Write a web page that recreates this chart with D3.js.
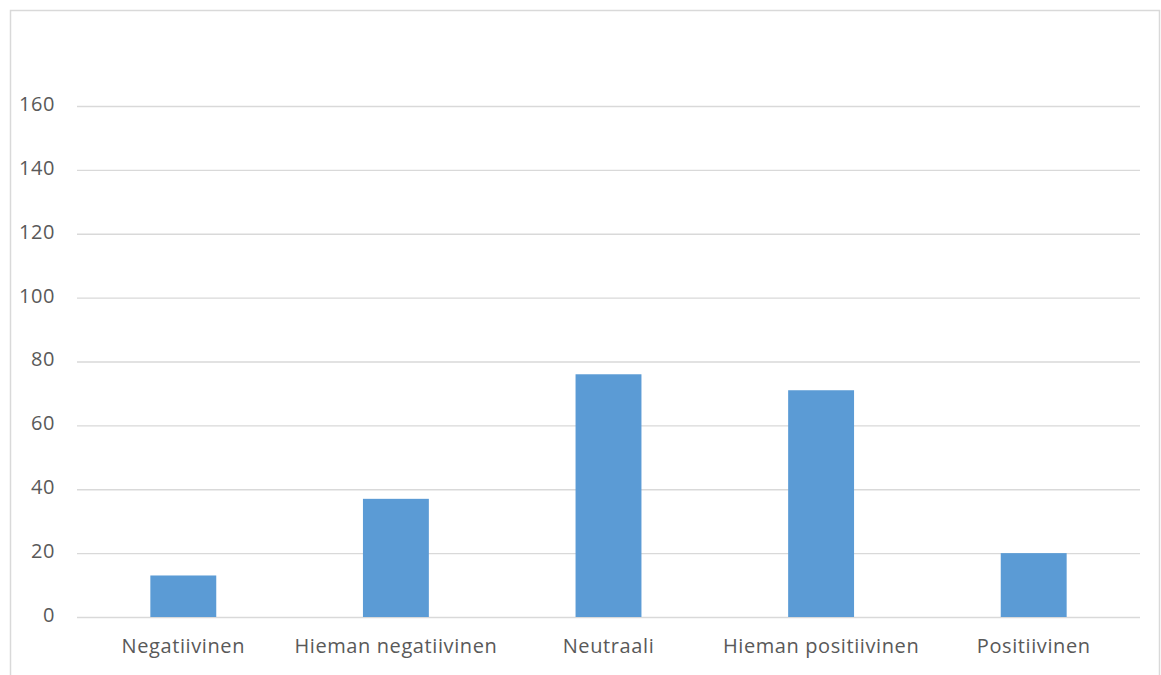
<!DOCTYPE html>
<html><head><meta charset="utf-8">
<script src="https://cdn.jsdelivr.net/npm/d3@7"></script>
<style>body{margin:0;background:#fff;}svg{display:block;}</style>
</head><body>
<script>
const categories = ["Negatiivinen","Hieman negatiivinen","Neutraali","Hieman positiivinen","Positiivinen"];
const values = [13, 37, 76, 71, 20];
const yTicks = [0,20,40,60,80,100,120,140,160];

const W = 1161, H = 675;
const svg = d3.select("body").append("svg").attr("width", W).attr("height", H);
svg.append("rect").attr("x",10.5).attr("y",10.5).attr("width",1149).attr("height",700)
  .attr("fill","#fff").attr("stroke","#d9d9d9").attr("stroke-width",1.5);

const x = d3.scaleBand().domain(categories).range([77,1140]).paddingInner(0.69).paddingOuter(0.345);
const y = d3.scaleLinear().domain([0,160]).range([617,106]);

const font = "'Open Sans', 'Noto Sans', sans-serif";
const yAxis = svg.append("g").attr("transform","translate(77,0)")
  .call(d3.axisLeft(y).tickValues(yTicks).tickSize(-(1140-77)).tickPadding(22));
yAxis.select(".domain").remove();
yAxis.selectAll(".tick line").attr("stroke","#d9d9d9").attr("stroke-width",1.3);
yAxis.selectAll(".tick text").attr("fill","#595959").attr("dy","0.22em")
  .style("font-family",font).style("font-size","20px").style("letter-spacing","0.6px");

svg.selectAll(".bar").data(values).join("rect").attr("class","bar")
  .attr("x",(d,i)=>x(categories[i])).attr("width",x.bandwidth())
  .attr("y",d=>y(d)).attr("height",d=>y(0)-y(d)).attr("fill","#5b9bd5");

const xAxis = svg.append("g").attr("transform","translate(0,617)")
  .call(d3.axisBottom(x).tickSize(0).tickPadding(22));
xAxis.select(".domain").remove();
xAxis.selectAll(".tick text").attr("fill","#595959")
  .style("font-family",font).style("font-size","20px").style("letter-spacing","0.6px");
</script>
</body></html>
